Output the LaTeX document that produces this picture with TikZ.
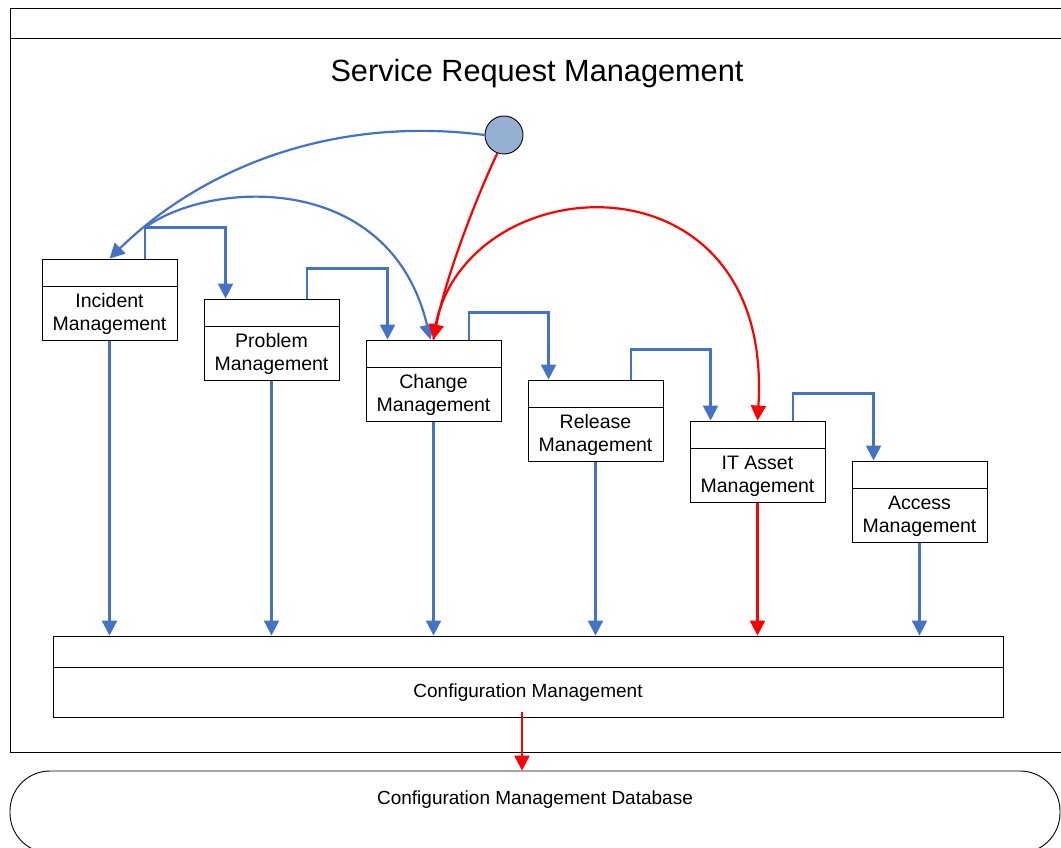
\documentclass[tikz,border=0pt]{standalone}
\usepackage{fontspec}
\setmainfont{Liberation Sans}
\usetikzlibrary{positioning,arrows.meta,calc}
\definecolor{flowblue}{RGB}{68,114,196}
\definecolor{hotred}{RGB}{255,0,0}
\definecolor{startfill}{RGB}{149,176,211}

\begin{document}
\begin{tikzpicture}[x=1pt, y=-1pt,
		% Box styles
		lanehead/.style={draw, line width=0.9pt, minimum width=135pt, minimum height=27pt, inner sep=0pt},
		lanebody/.style={draw, line width=0.9pt, minimum width=135pt, minimum height=54pt, inner sep=0pt,
			align=center, font=\fontsize{19.5}{23}\selectfont},
		cfghead/.style={draw, line width=0.9pt, minimum width=950pt, minimum height=31pt, inner sep=0pt},
		cfgbody/.style={draw, line width=0.9pt, minimum width=950pt, minimum height=50pt, inner sep=0pt,
			font=\fontsize{19}{23}\selectfont},
		dbshape/.style={draw, line width=0.9pt, rounded corners=40pt, minimum width=1050pt, minimum height=82pt},
		startdot/.style={circle, draw, line width=0.9pt, fill=startfill, minimum size=38pt, inner sep=0pt},
		% Arrow styles
		flow/.style={draw=flowblue, line width=2.2pt, -{Triangle[length=15pt,width=15pt]}},
		hotflow/.style={draw=hotred, line width=2.2pt, -{Triangle[length=15pt,width=15pt]}},
		% Text styles
		titletext/.style={font=\fontsize{30.7}{36}\selectfont},
		dbtext/.style={font=\fontsize{19}{23}\selectfont}
		]
		
		\useasboundingbox (0,0) rectangle (1061,848);
		\clip (0,0) rectangle (1061,848);
		
		% Outer pool with its header strip
		\node[draw, line width=0.9pt, minimum width=1065pt, minimum height=744pt, inner sep=0pt, anchor=north west] (pool) at (10,8) {};
		\draw[line width=0.9pt] ($(pool.north west)+(0,30)$) -- ($(pool.north east)+(0,30)$);
		\node[titletext] (title) at (537,74) {Service Request Management};
		
		% Start event
		\node[startdot] (start) at (504,135) {};
		
		% Process boxes
		\node[lanehead] (inc) at (109.5,272.5) {};
		\node[lanebody, below=0pt of inc] (incb) {Incident\\Management};
		
		\node[lanehead] (prb) at (271.5,312.5) {};
		\node[lanebody, below=0pt of prb] (prbb) {Problem\\Management};
		
		\node[lanehead] (chg) at (433.5,353.5) {};
		\node[lanebody, below=0pt of chg] (chgb) {Change\\Management};
		
		\node[lanehead] (rel) at (595.5,393.5) {};
		\node[lanebody, below=0pt of rel] (relb) {Release\\Management};
		
		\node[lanehead] (ast) at (757.5,434.5) {};
		\node[lanebody, below=0pt of ast] (astb) {IT Asset\\Management};
		
		\node[lanehead] (acc) at (919.5,474.5) {};
		\node[lanebody, below=0pt of acc] (accb) {Access\\Management};
		
		% Configuration management and its database
		\node[cfghead] (cfg) at (528,651.5) {};
		\node[cfgbody, below=0pt of cfg] (cfgb) {Configuration Management};
		
		\node[dbshape] (cmdb) at (535,812) {};
		\node[dbtext] (cmdbtext) at ($(cmdb.center)+(0,-12)$) {Configuration Management Database};
		
		% Hand-offs between neighbouring processes
		\draw[flow] ($(inc.north)+(35.5,0)$) -- ++(0,-31) coordinate (incup) -| ($(prb.north west)+(22,0)$);
		\draw[flow] ($(prb.north)+(35.5,0)$) -- ++(0,-30) -| ($(chg.north west)+(22,0)$);
		\draw[flow] ($(chg.north)+(35.5,0)$) -- ++(0,-27) -| ($(rel.north west)+(21,0)$);
		\draw[flow] ($(rel.north)+(35.5,0)$) -- ++(0,-30) -| ($(ast.north west)+(21,0)$);
		\draw[flow] ($(ast.north)+(35.5,0)$) -- ++(0,-27) -| ($(acc.north west)+(22,0)$);
		
		% Curved flows
		\draw[flow] (start.west) .. controls (330,115) and (200,170) .. (inc.north);
		\draw[flow] (incup) .. controls (210,180) and (390,170) .. ($(chg.north)+(-3,0)$);
		\draw[hotflow] (start.250) .. controls (475,200) and (445,280) .. (chg.north);
		\draw[hotflow] (chg.north) .. controls (450,165) and (775,140) .. (ast.north);
		
		% Updates into configuration management
		\draw[flow] (incb.south) -- (incb.south |- cfg.north);
		\draw[flow] (prbb.south) -- (prbb.south |- cfg.north);
		\draw[flow] (chgb.south) -- (chgb.south |- cfg.north);
		\draw[flow] (relb.south) -- (relb.south |- cfg.north);
		\draw[hotflow] (astb.south) -- (astb.south |- cfg.north);
		\draw[flow] (accb.south) -- (accb.south |- cfg.north);
		
		% Store into the database
		\draw[hotflow] ($(cfgb.south)+(-6,-6)$) -- ($(cfgb.south |- cmdb.north)+(-6,0)$);
		
	\end{tikzpicture}
\end{document}
